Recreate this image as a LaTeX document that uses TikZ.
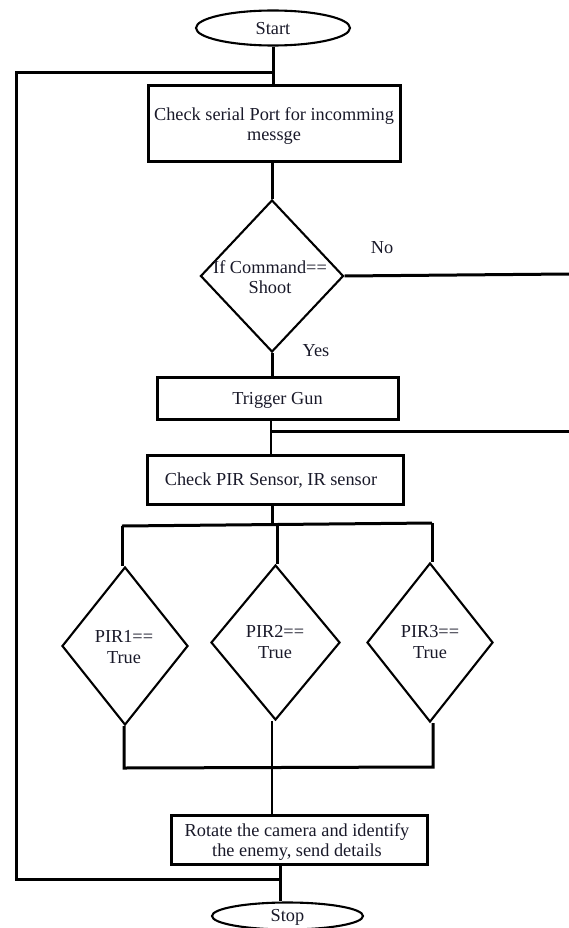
\documentclass[tikz,border=0pt]{standalone}
\usepackage{fontspec}
\setmainfont{Liberation Serif}
\usetikzlibrary{shapes.geometric}
\definecolor{txt}{rgb}{0.10,0.10,0.16}
\begin{document}
\begin{tikzpicture}[x=1pt,y=-1pt,
  every node/.style={font=\fontsize{18.3}{20.5}\selectfont, text=txt},
  box/.style={draw, rectangle, line width=3pt, inner sep=0pt},
  dia/.style={draw, diamond, line width=2.1pt, inner sep=0pt},
  term/.style={draw, ellipse, line width=2.1pt, inner sep=0pt},
  lbl/.style={inner sep=0pt, align=center},
  conn/.style={line width=3pt},
  thinconn/.style={line width=2.2pt}]
\useasboundingbox (0,0) rectangle (569,928);

% nodes
\node[term, minimum width=154, minimum height=35] (start) at (273,28) {};
\node[lbl] (startt) at (273,29) {Start};
\node[box, minimum width=252, minimum height=76] (b1) at (274,124) {};
\node[lbl] (b1t) at (274,126) {Check serial Port for incomming\\messge};
\node[dia, minimum width=143, minimum height=152] (d1) at (272,276) {};
\node[lbl] (d1t) at (270,277) {If Command==\\Shoot};
\node[lbl] (no) at (382,248) {No};
\node[lbl] (yes) at (316,351) {Yes};
\node[box, minimum width=241, minimum height=42] (b2) at (277.5,398) {};
\node[lbl] (b2t) at (277.5,400) {Trigger Gun};
\node[box, minimum width=256, minimum height=49] (b3) at (275,479.5) {};
\node[lbl] (b3t) at (271,481) {Check PIR Sensor, IR sensor};
\node[dia, minimum width=126, minimum height=158] (p1) at (125,646) {};
\node[lbl] (p1t) at (124,647) {PIR1==\\True};
\node[dia, minimum width=129, minimum height=155] (p2) at (275.5,642.5) {};
\node[lbl] (p2t) at (275,642) {PIR2==\\True};
\node[dia, minimum width=126, minimum height=159] (p3) at (430,642.5) {};
\node[lbl] (p3t) at (430,642) {PIR3==\\True};
\node[box, minimum width=256, minimum height=49] (b4) at (299,839.5) {};
\node[lbl] (b4t) at (297,842) {Rotate the camera and identify\\the enemy, send details};
\node[term, minimum width=151, minimum height=27] (stop) at (287.5,916) {};
\node[lbl] (stopt) at (287.5,917) {Stop};

% junction coordinates
\coordinate (lj) at (273,73);
\coordinate (tl) at (16,73);
\coordinate (bl) at (16,879);
\coordinate (bj) at (280,879);
\coordinate (noend) at (569,274);
\coordinate (rj) at (271,431);
\coordinate (rend) at (569,431);
\coordinate (fork) at (272,524);
\coordinate (fl) at (122,526);
\coordinate (fm) at (277,524.5);
\coordinate (fr) at (432,523);
\coordinate (ml) at (124,768);
\coordinate (mm) at (272,767.5);
\coordinate (mr) at (433,767);

% connectors
\draw[conn] (start.south) -- (start.south |- b1.north);
\draw[conn] (lj) -- (tl) -- (bl) -- (bj);
\draw[conn] (b1.south -| d1.north) -- (d1.north);
\draw[conn] (d1.east) -- (noend);
\draw[conn] (d1.south) -- (d1.south |- b2.north);
\draw[thinconn] (b2.south -| rj) -- (b3.north -| rj);
\draw[conn] (rj) -- (rend);
\draw[conn] (b3.south -| fork) -- (fork);
\draw[conn] (fl) -- (fr);
\draw[conn] (fl) -- (fl |- p1.north);
\draw[conn] (fm) -- (fm |- p2.north);
\draw[conn] (fr) -- (fr |- p3.north);
\draw[conn] (p1.south -| ml) -- (ml) -- (mr) -- (p3.south -| mr);
\draw[thinconn] (p2.south -| mm) -- (mm |- b4.north);
\draw[conn] (b4.south -| bj) -- (bj |- stop.north);
\end{tikzpicture}
\end{document}
